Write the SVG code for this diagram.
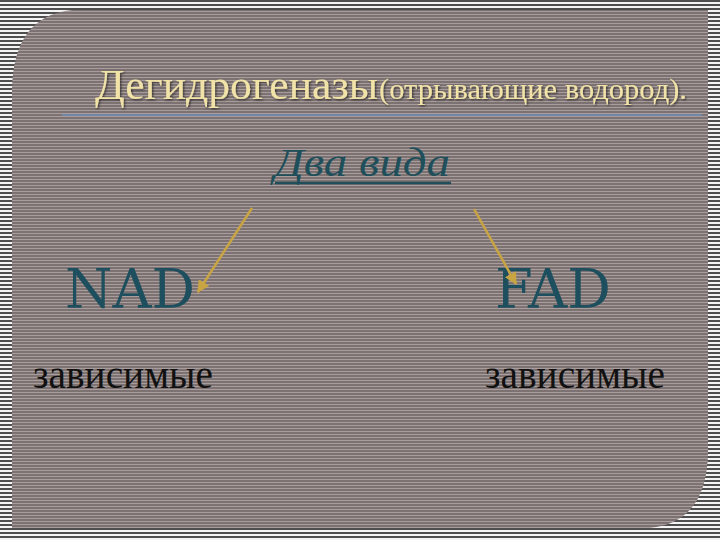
<svg xmlns="http://www.w3.org/2000/svg" width="720" height="540" viewBox="0 0 720 540">
  <defs>
    <pattern id="outer" width="8" height="4" patternUnits="userSpaceOnUse">
      <rect width="8" height="4" fill="#f4f4f4"/>
      <rect width="8" height="2" fill="#4e4e4e"/>
    </pattern>
    <pattern id="panel" width="8" height="3" patternUnits="userSpaceOnUse">
      <rect width="8" height="3" fill="#7d7272"/>
      <rect y="2" width="8" height="1" fill="#a89d9c"/>
    </pattern>
    <marker id="arr" viewBox="0 0 10 10" refX="9" refY="5" markerWidth="5" markerHeight="5" orient="auto-start-reverse">
      <path d="M0,0 L10,5 L0,10 z" fill="#c9a443"/>
    </marker>
    <filter id="sh" x="-5%" y="-20%" width="110%" height="140%">
      <feDropShadow dx="1.2" dy="1.2" stdDeviation="0.8" flood-color="#000" flood-opacity="0.6"/>
    </filter>
    <style>
      .title{font-family:"Liberation Serif","DejaVu Serif",serif;fill:#f1e3a8;}
      .mono{font-family:"DejaVu Serif","Liberation Serif",serif;fill:#1e4f5e;font-size:54px;}
      .dep{font-family:"Liberation Serif","DejaVu Serif",serif;fill:#111;font-size:42px;}
      .conn{stroke:#c9a443;stroke-width:2.5;fill:none;}
    </style>
  </defs>
  <rect width="720" height="540" fill="url(#outer)"/>
  <path d="M72,10 L708,10 L708,450 Q708,522 650,528 L12,528 L12,88 Q14,16 72,10 Z" fill="url(#panel)"/>

  <g id="title">
    <text class="title" x="95" y="99" font-size="42" textLength="283" lengthAdjust="spacingAndGlyphs" filter="url(#sh)">Дегидрогеназы</text>
    <text class="title" x="379" y="99" font-size="29" textLength="308" lengthAdjust="spacingAndGlyphs" filter="url(#sh)">(отрывающие водород).</text>
    <line x1="62" y1="115" x2="702" y2="115" stroke="#7187a8" stroke-width="2"/>
  </g>

  <g id="root">
    <text x="362" y="176" text-anchor="middle" font-family="'Liberation Serif','DejaVu Serif',serif" font-style="italic" font-size="40" fill="#1e4f5a" textLength="176" lengthAdjust="spacingAndGlyphs">Два вида</text>
    <line x1="275" y1="183" x2="451" y2="183" stroke="#1e4f5a" stroke-width="2.5"/>
  </g>

  <g id="nad">
    <text class="mono" x="65" y="308" textLength="130" lengthAdjust="spacingAndGlyphs">NAD</text>
    <text class="dep" x="33" y="388" textLength="180" lengthAdjust="spacingAndGlyphs">зависимые</text>
  </g>

  <g id="fad">
    <text class="mono" x="495" y="308" textLength="116" lengthAdjust="spacingAndGlyphs">FAD</text>
    <text class="dep" x="485" y="388" textLength="180" lengthAdjust="spacingAndGlyphs">зависимые</text>
  </g>

  <g id="connectors">
    <line class="conn" x1="252" y1="208" x2="198" y2="292" marker-end="url(#arr)"/>
    <line class="conn" x1="474" y1="209" x2="516" y2="284" marker-end="url(#arr)"/>
  </g>
</svg>
